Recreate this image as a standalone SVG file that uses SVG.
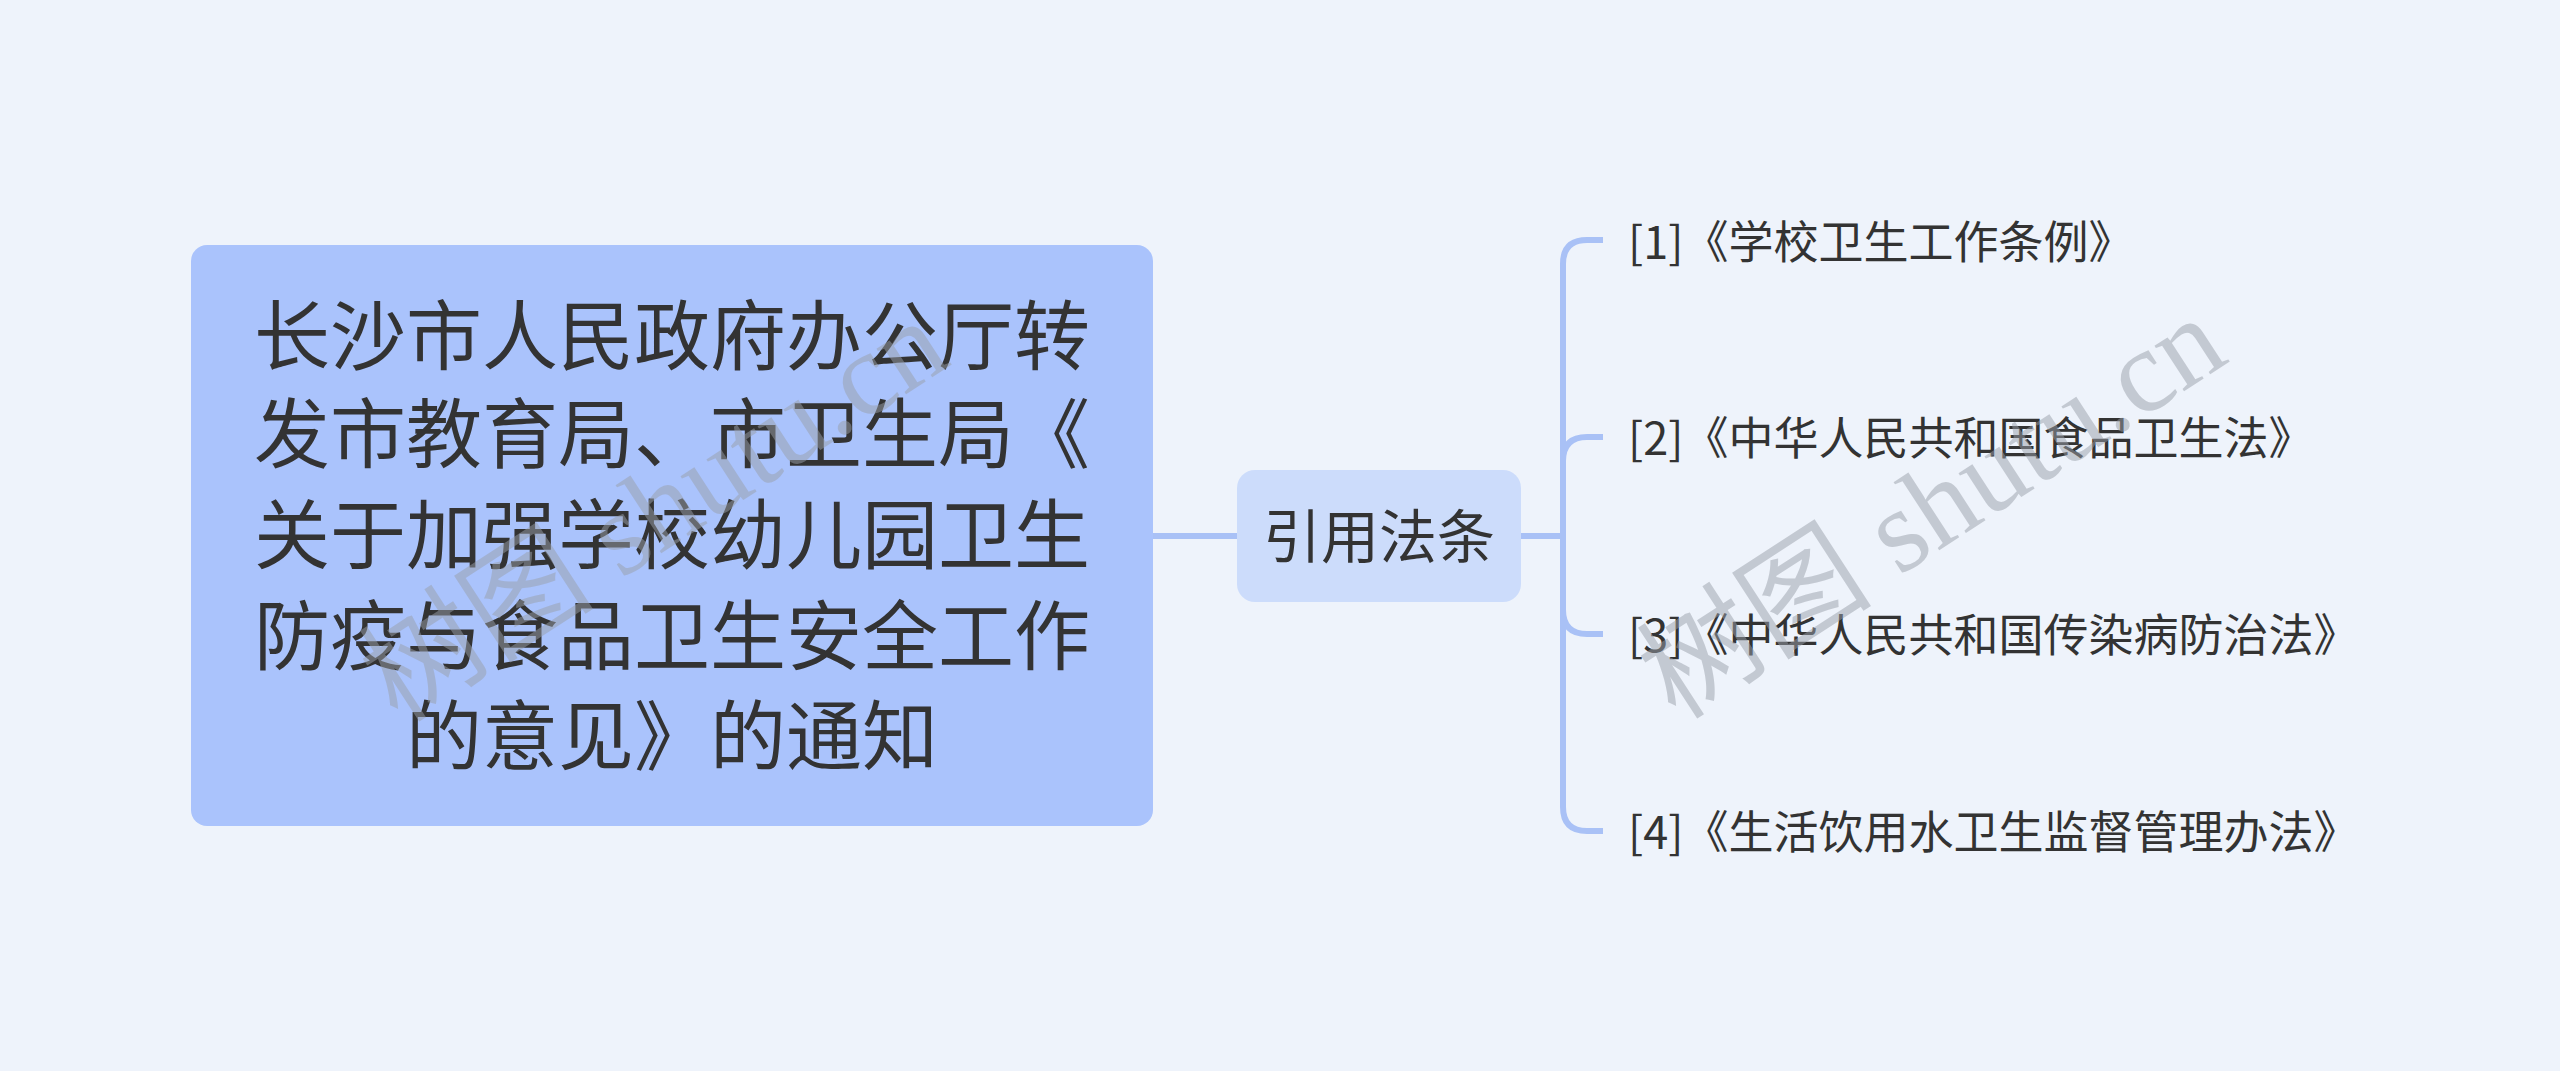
<svg xmlns="http://www.w3.org/2000/svg" width="2560" height="1071" viewBox="0 0 2560 1071">
<style>
.cjk{font-family:"Noto Sans CJK SC","Noto Sans",sans-serif;fill:#333333}
.main{font-size:76px;text-anchor:middle}
.mid{font-size:58px;text-anchor:middle}
.leaf{font-size:45px}
.conn{fill:none;stroke:#a9c1f6;stroke-width:6;stroke-linecap:butt}
.wm{font-family:"Liberation Serif","Noto Sans CJK SC",serif;font-size:118px;fill:#9aa0aa;opacity:0.5}
</style>
<rect width="2560" height="1071" fill="#eef3fb"/>
<g id="connectors">
<path class="conn" d="M1153,536 L1237,536"/>
<path class="conn" d="M1521,536 L1563,536"/>
<path class="conn" d="M1563,536 L1563,264 Q1563,240 1587,240 L1603,240"/>
<path class="conn" d="M1563,536 L1563,461 Q1563,437 1587,437 L1603,437"/>
<path class="conn" d="M1563,536 L1563,610 Q1563,634 1587,634 L1603,634"/>
<path class="conn" d="M1563,536 L1563,807 Q1563,831 1587,831 L1603,831"/>
</g>
<g id="node-main">
<rect x="191" y="245" width="962" height="581" rx="16" fill="#aac3fc"/>
<text class="cjk main" x="672"><tspan x="672" y="364">长沙市人民政府办公厅转</tspan><tspan x="672" y="462">发市教育局、市卫生局《</tspan><tspan x="672" y="563">关于加强学校幼儿园卫生</tspan><tspan x="672" y="664">防疫与食品卫生安全工作</tspan><tspan x="672" y="764">的意见》的通知</tspan></text>
</g>
<g id="node-mid">
<rect x="1237" y="470" width="284" height="132" rx="18" fill="#ccdcfb"/>
<text class="cjk mid" x="1379" y="558">引用法条</text>
</g>
<g id="leaf-1"><text class="cjk leaf" x="1628" y="259">[1]《学校卫生工作条例》</text></g>
<g id="leaf-2"><text class="cjk leaf" x="1628" y="455">[2]《中华人民共和国食品卫生法》</text></g>
<g id="leaf-3"><text class="cjk leaf" x="1628" y="652">[3]《中华人民共和国传染病防治法》</text></g>
<g id="leaf-4"><text class="cjk leaf" x="1628" y="849">[4]《生活饮用水卫生监督管理办法》</text></g>
<g id="watermark">
<text class="wm" text-anchor="middle" transform="translate(655,512) rotate(-33)" y="38">树图 shutu.cn</text>
<text class="wm" text-anchor="middle" transform="translate(1933,509) rotate(-33)" y="38">树图 shutu.cn</text>
</g>
</svg>
